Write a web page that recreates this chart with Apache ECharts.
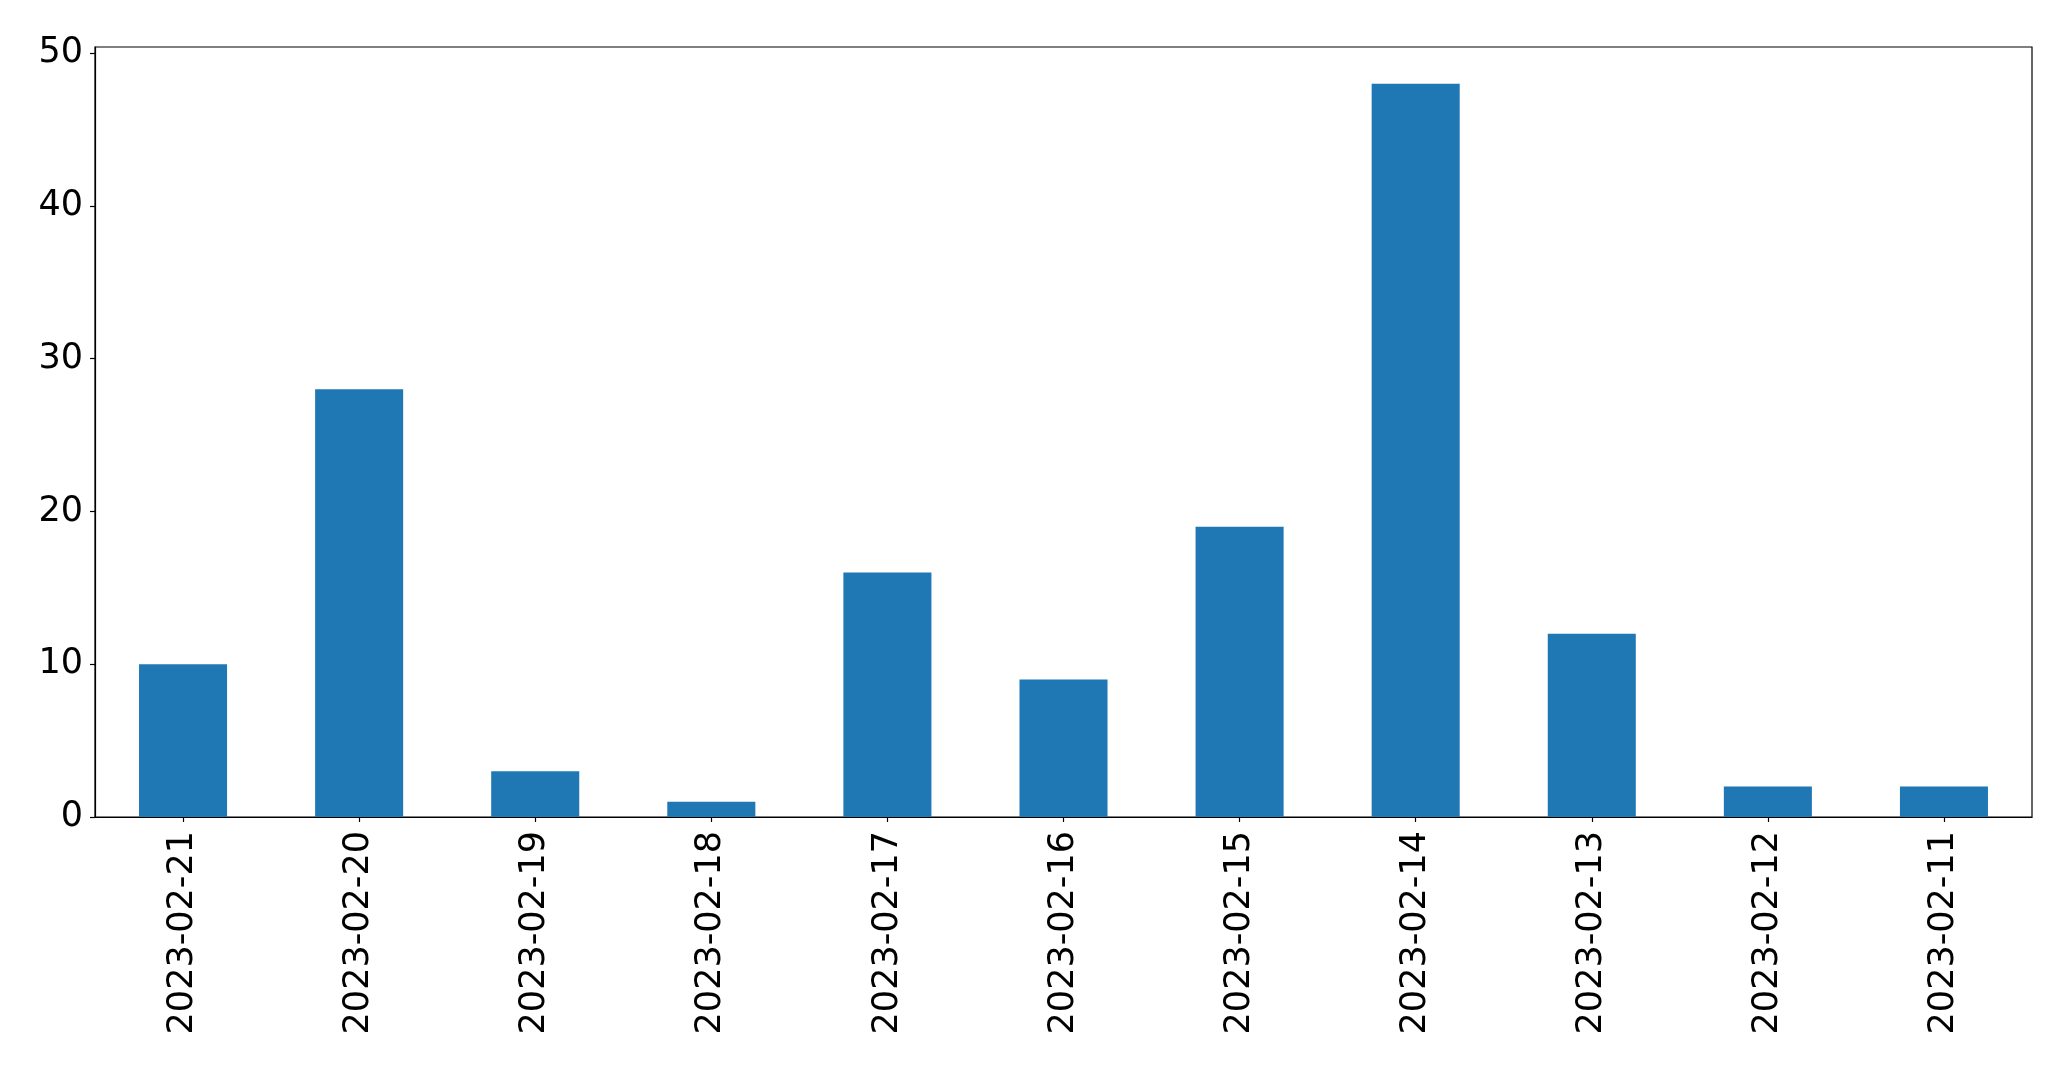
<!DOCTYPE html>
<html>
<head>
<meta charset="utf-8">
<script src="https://cdn.jsdelivr.net/npm/echarts@6/dist/echarts.min.js"></script>
<style>
html,body{margin:0;padding:0;background:#fff;}
#chart{width:2071px;height:1069px;}
</style>
</head>
<body>
<div id="chart"></div>
<script>
const categories = ['2023-02-21','2023-02-20','2023-02-19','2023-02-18','2023-02-17','2023-02-16','2023-02-15','2023-02-14','2023-02-13','2023-02-12','2023-02-11'];
const values = [10, 28, 3, 1, 16, 9, 19, 48, 12, 2, 2];
const yTicks = [0, 10, 20, 30, 40, 50];

const chart = echarts.init(document.getElementById('chart'), null, {renderer: 'canvas'});
const fontFamily = 'DejaVu Sans';
chart.setOption({
  animation: false,
  backgroundColor: '#ffffff',
  grid: {
    left: 95, top: 47, right: 39, bottom: 252,
    show: true, borderColor: '#000', borderWidth: 1.2, backgroundColor: 'transparent',
    containLabel: false
  },
  xAxis: {
    type: 'category',
    data: categories,
    boundaryGap: true,
    axisLine: {show: true, lineStyle: {color: '#000', width: 1.2}},
    axisTick: {show: true, alignWithLabel: true, length: 5, lineStyle: {color: '#000', width: 1.2}},
    axisLabel: {rotate: 90, fontSize: 35, fontFamily: fontFamily, color: '#000', margin: 14, interval: 0},
    splitLine: {show: false}
  },
  yAxis: {
    type: 'value',
    min: 0, max: 50.4,
    axisLine: {show: true, lineStyle: {color: '#000', width: 1.2}},
    axisTick: {show: true, length: 5, customValues: yTicks, lineStyle: {color: '#000', width: 1.2}},
    axisLabel: {fontSize: 35, fontFamily: fontFamily, color: '#000', margin: 12, customValues: yTicks},
    splitLine: {show: false}
  },
  series: [{
    type: 'bar',
    data: values,
    barWidth: '50%',
    itemStyle: {color: '#1f77b4'}
  }]
});
</script>
</body>
</html>
